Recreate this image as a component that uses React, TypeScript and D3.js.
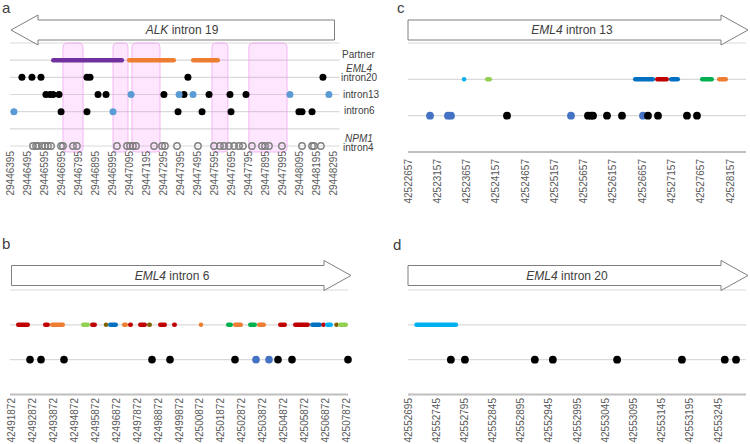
import React from "react";
import * as d3 from "d3";

// ---------- colours for partner categories ----------
const PARTNER_COLORS: Record<string, string> = {
  red: "#c00000",
  orange: "#ed7d31",
  lime: "#92d050",
  green: "#00b050",
  blue: "#0070c0",
  cyan: "#00b0f0",
  olive: "#7f6000",
  purple: "#7030a0",
};

// ---------- panel a : ALK intron 19 ----------
const ticksA = [29446395, 29446495, 29446595, 29446695, 29446795, 29446895, 29446995, 29447095, 29447195, 29447295,
  29447395, 29447495, 29447595, 29447695, 29447795, 29447895, 29447995, 29448095, 29448195, 29448295];
const shadedA = [
  [29446706, 29446824],
  [29447000, 29447088],
  [29447111, 29447276],
  [29447581, 29447675],
  [29447798, 29448022],
];
const partnerA = [
  { start: 29446636, end: 29447065, c: "purple" },
  { start: 29447082, end: 29447370, c: "orange" },
  { start: 29447458, end: 29447628, c: "orange" },
];
const eml4i20BlackA = [29446465, 29446524, 29446577, 29446847, 29446865, 29447440, 29448233];
const eml4i13BlackA = [29446606, 29446630, 29446648, 29446683, 29446912, 29446959, 29447299, 29447417, 29447564, 29447687, 29447781];
const eml4i13BlueA = [29447106, 29447388, 29447470, 29448039, 29448268];
const eml4i6BlackA = [29446695, 29446847, 29447382, 29447523, 29447693, 29448092, 29448110, 29448169];
const eml4i6BlueA = [29446418, 29447000];
const npm1i4A = [29446530, 29446548, 29446559, 29446583, 29446601, 29446618, 29446636, 29446695, 29446706, 29446765,
  29446788, 29447023, 29447082, 29447100, 29447117, 29447135, 29447241, 29447288, 29447305, 29447376, 29447499,
  29447593, 29447628, 29447652, 29447681, 29447711, 29447740, 29447763, 29447816, 29447875, 29447893, 29447916,
  29447992, 29448110, 29448169, 29448180, 29448221];

// ---------- panel b : EML4 intron 6 ----------
const ticksB = [42491872, 42492872, 42493872, 42494872, 42495872, 42496872, 42497872, 42498872, 42499872, 42500872,
  42501872, 42502872, 42503872, 42504872, 42505872, 42506872, 42507872];
const partnerB = [
  { start: 42492087, end: 42492756, c: "red" },
  { start: 42493376, end: 42493711, c: "red" },
  { start: 42493711, end: 42494427, c: "orange" },
  { start: 42495191, end: 42495621, c: "lime" },
  { start: 42495621, end: 42495955, c: "red" },
  { start: 42496290, end: 42496481, c: "olive" },
  { start: 42496481, end: 42496958, c: "blue" },
  { start: 42497149, end: 42497436, c: "orange" },
  { start: 42497436, end: 42497675, c: "red" },
  { start: 42497914, end: 42498343, c: "red" },
  { start: 42498343, end: 42498582, c: "olive" },
  { start: 42498869, end: 42499299, c: "red" },
  { start: 42499537, end: 42499776, c: "red" },
  { start: 42500827, end: 42501018, c: "orange" },
  { start: 42502117, end: 42502451, c: "green" },
  { start: 42502451, end: 42502928, c: "orange" },
  { start: 42503167, end: 42503597, c: "green" },
  { start: 42503597, end: 42504027, c: "orange" },
  { start: 42504600, end: 42505030, c: "red" },
  { start: 42505316, end: 42506128, c: "red" },
  { start: 42506128, end: 42506701, c: "blue" },
  { start: 42506701, end: 42506845, c: "red" },
  { start: 42506845, end: 42507227, c: "cyan" },
  { start: 42507322, end: 42507466, c: "olive" },
  { start: 42507466, end: 42507943, c: "lime" },
];
const blackB = [42492756, 42493281, 42494379, 42498582, 42499442, 42502546, 42504600, 42505269, 42507943];
const blueB = [42503549, 42504170];

// ---------- panel c : EML4 intron 13 ----------
const ticksC = [42522657, 42523157, 42523657, 42524157, 42524657, 42525157, 42525657, 42526157, 42526657, 42527157,
  42527657, 42528157];
const partnerC = [
  { start: 42523580, end: 42523650, c: "cyan" },
  { start: 42523972, end: 42524092, c: "lime" },
  { start: 42526500, end: 42526876, c: "blue" },
  { start: 42526876, end: 42527115, c: "red" },
  { start: 42527115, end: 42527303, c: "blue" },
  { start: 42527644, end: 42527883, c: "green" },
  { start: 42527935, end: 42528123, c: "orange" },
];
const blackC = [42524348, 42525731, 42525783, 42525817, 42526056, 42526312, 42526756, 42526927, 42527422, 42527593];
const blueC = [42523033, 42523340, 42523391, 42525441, 42526671];

// ---------- panel d : EML4 intron 20 ----------
const ticksD = [42552695, 42552745, 42552795, 42552845, 42552895, 42552945, 42552995, 42553045, 42553095, 42553145,
  42553195, 42553245];
const partnerD = [{ start: 42552706, end: 42552784, c: "cyan" }];
const blackD = [42552771, 42552796, 42552920, 42552952, 42553066, 42553181, 42553257, 42553277];

// ---------- styles ----------
const FONT = "'Liberation Sans', Arial, sans-serif";
const GRID = "#d9d9d9";
const AXIS = "#bfbfbf";
const TEXT = "#404040";
const TICK = "#595959";
const BLACK = "#000000";
const BLUE_A = "#5b9bd5";
const BLUE_B = "#4472c4";

function arrowPath(x0: number, x1: number, yc: number, bodyH: number, headH: number, headW: number, dir: string) {
  if (dir === "right") {
    const xb = x1 - headW;
    return `M${x0},${yc - bodyH}L${xb},${yc - bodyH}L${xb},${yc - headH}L${x1},${yc}L${xb},${yc + headH}L${xb},${yc + bodyH}L${x0},${yc + bodyH}Z`;
  }
  const xb = x0 + headW;
  return `M${x1},${yc - bodyH}L${xb},${yc - bodyH}L${xb},${yc - headH}L${x0},${yc}L${xb},${yc + headH}L${xb},${yc + bodyH}L${x1},${yc + bodyH}Z`;
}

type Seg = { start: number; end: number; c: string };

function Segments({ data, x, y, h }: { data: Seg[]; x: d3.ScaleLinear<number, number>; y: number; h: number }) {
  return (
    <g>
      {data.map((s, i) => {
        const x0 = x(s.start);
        const x1 = x(s.end);
        const w = Math.max(x1 - x0, h);
        const cx = (x0 + x1) / 2;
        return (
          <rect key={i} x={cx - w / 2} y={y - h / 2} width={w} height={h} rx={h / 2} fill={PARTNER_COLORS[s.c]} />
        );
      })}
    </g>
  );
}

function Dots({ data, x, y, r, fill, stroke }: { data: number[]; x: d3.ScaleLinear<number, number>; y: number; r: number; fill: string; stroke?: string }) {
  return (
    <g>
      {data.map((v, i) => (
        <circle key={i} cx={x(v)} cy={y} r={r} fill={fill} stroke={stroke || "none"} strokeWidth={stroke ? 1.4 : 0} />
      ))}
    </g>
  );
}

function TickLabels({ ticks, x, top }: { ticks: number[]; x: d3.ScaleLinear<number, number>; top: number }) {
  return (
    <g>
      {ticks.map((t) => (
        <text key={t} transform={`translate(${x(t)},${top}) rotate(-90)`} textAnchor="end" dy="0.35em"
          fontSize={10} fill={TICK} fontFamily={FONT}>{t}</text>
      ))}
    </g>
  );
}

function HLine({ x0, x1, y, color, w }: { x0: number; x1: number; y: number; color: string; w: number }) {
  return <line x1={x0} x2={x1} y1={y} y2={y} stroke={color} strokeWidth={w} />;
}

function Arrow({ x0, x1, yc, dir, gene, rest, cx }: { x0: number; x1: number; yc: number; dir: string; gene: string; rest: string; cx: number }) {
  return (
    <g>
      <path d={arrowPath(x0, x1, yc, 10, 15, 27, dir)} fill="#ffffff" stroke="#7f7f7f" strokeWidth={1} />
      <text x={cx} y={yc} dy="0.35em" textAnchor="middle" fontSize={12} fill={TEXT} fontFamily={FONT}>
        <tspan fontStyle="italic">{gene}</tspan>
        <tspan>{" " + rest}</tspan>
      </text>
    </g>
  );
}

export default function App() {
  // ---------- panel a ----------
  const xA = d3.scaleLinear().domain([ticksA[0], ticksA[ticksA.length - 1]]).range([10, 333.5]);
  const endA = 339.5;
  const rowA = d3.scaleLinear().domain([0, 6]).range([146, 43]);

  // ---------- panel c ----------
  const xC = d3.scaleLinear().domain([ticksC[0], ticksC[ticksC.length - 1]]).range([408, 730]);
  const endC = 746;
  const rowC = d3.scaleLinear().domain([0, 3]).range([43, 152]);

  // ---------- panel b ----------
  const xB = d3.scaleLinear().domain([ticksB[0], ticksB[ticksB.length - 1]]).range([11.5, 346.5]);
  const endB = 348;
  const rowB = d3.scaleLinear().domain([0, 3]).range([290, 394.5]);

  // ---------- panel d ----------
  const xD = d3.scaleLinear().domain([ticksD[0], ticksD[ticksD.length - 1]]).range([408, 718]);
  const endD = 746;
  const rowD = d3.scaleLinear().domain([0, 3]).range([290, 394.5]);

  const startA = xA.range()[0];

  return (
    <svg width={750} height={444} style={{ position: "absolute", left: 0, top: 0, display: "block", background: "#ffffff" }}
      fontFamily={FONT}>
      <rect x={0} y={0} width={750} height={444} fill="#ffffff" />

      {/* ===== panel a ===== */}
      <text x={2} y={13} fontSize={15} fill={TEXT}>a</text>
      {d3.range(0, 7).map((i) => (
        <HLine key={i} x0={startA} x1={endA} y={rowA(i)} color={GRID} w={1.2} />
      ))}
      {shadedA.map(([s, e], i) => (
        <rect key={i} x={xA(s)} y={rowA(6)} width={xA(e) - xA(s)} height={rowA(0) - rowA(6) + 6} rx={4}
          fill="#ff66ff" fillOpacity={0.16} stroke="#f0a8f0" strokeOpacity={0.8} strokeWidth={1} />
      ))}
      <Arrow x0={startA + 1} x1={endA - 5} yc={30} dir="left" gene="ALK" rest="intron 19" cx={182} />
      <Segments data={partnerA} x={xA} y={rowA(5)} h={4.5} />
      <Dots data={eml4i20BlackA} x={xA} y={rowA(4)} r={3.5} fill={BLACK} />
      <Dots data={eml4i13BlackA} x={xA} y={rowA(3)} r={3.5} fill={BLACK} />
      <Dots data={eml4i13BlueA} x={xA} y={rowA(3)} r={3.5} fill={BLUE_A} />
      <Dots data={eml4i6BlackA} x={xA} y={rowA(2)} r={3.5} fill={BLACK} />
      <Dots data={eml4i6BlueA} x={xA} y={rowA(2)} r={3.5} fill={BLUE_A} />
      <Dots data={npm1i4A} x={xA} y={rowA(0)} r={3.2} fill="none" stroke="#7f7f7f" />
      <TickLabels ticks={ticksA} x={xA} top={151} />
      <g fontSize={10} fill={TEXT}>
        <text x={342} y={54} dy="0.35em">Partner</text>
        <text x={346} y={68} dy="0.35em" fontStyle="italic">EML4</text>
        <text x={341} y={77.5} dy="0.35em">intron20</text>
        <text x={343} y={94} dy="0.35em">intron13</text>
        <text x={344} y={110.5} dy="0.35em">intron6</text>
        <text x={345} y={138} dy="0.35em" fontStyle="italic">NPM1</text>
        <text x={343} y={147.5} dy="0.35em">intron4</text>
      </g>

      {/* ===== panel c ===== */}
      <text x={397} y={13} fontSize={15} fill={TEXT}>c</text>
      <HLine x0={xC.range()[0]} x1={endC} y={rowC(0)} color={GRID} w={1.2} />
      <HLine x0={xC.range()[0]} x1={endC} y={rowC(1)} color={GRID} w={1.2} />
      <HLine x0={xC.range()[0]} x1={endC} y={rowC(2)} color={GRID} w={1.2} />
      <HLine x0={xC.range()[0]} x1={endC} y={rowC(3)} color={AXIS} w={1.8} />
      <Arrow x0={xC.range()[0]} x1={endC + 2} yc={30} dir="right" gene="EML4" rest="intron 13" cx={572} />
      <Segments data={partnerC} x={xC} y={rowC(1)} h={4.5} />
      <Dots data={blueC} x={xC} y={rowC(2)} r={3.9} fill={BLUE_B} />
      <Dots data={blackC} x={xC} y={rowC(2)} r={3.9} fill={BLACK} />
      <TickLabels ticks={ticksC} x={xC} top={159} />

      {/* ===== panel b ===== */}
      <text x={2} y={249} fontSize={15} fill={TEXT}>b</text>
      <HLine x0={xB.range()[0] - 1.5} x1={endB} y={rowB(0)} color={GRID} w={1.2} />
      <HLine x0={xB.range()[0] - 1.5} x1={endB} y={rowB(1)} color={GRID} w={1.2} />
      <HLine x0={xB.range()[0] - 1.5} x1={endB} y={rowB(2)} color={GRID} w={1.2} />
      <HLine x0={xB.range()[0] - 1.5} x1={endB} y={rowB(3)} color={AXIS} w={1.8} />
      <Arrow x0={xB.range()[0]} x1={endB + 3} yc={275.5} dir="right" gene="EML4" rest="intron 6" cx={172} />
      <Segments data={partnerB} x={xB} y={rowB(1)} h={4.5} />
      <Dots data={blackB} x={xB} y={rowB(2)} r={3.8} fill={BLACK} />
      <Dots data={blueB} x={xB} y={rowB(2)} r={3.8} fill={BLUE_B} />
      <TickLabels ticks={ticksB} x={xB} top={398} />

      {/* ===== panel d ===== */}
      <text x={393} y={250} fontSize={15} fill={TEXT}>d</text>
      <HLine x0={xD.range()[0]} x1={endD} y={rowD(0)} color={GRID} w={1.2} />
      <HLine x0={xD.range()[0]} x1={endD} y={rowD(1)} color={GRID} w={1.2} />
      <HLine x0={xD.range()[0]} x1={endD} y={rowD(2)} color={GRID} w={1.2} />
      <HLine x0={xD.range()[0]} x1={endD} y={rowD(3)} color={AXIS} w={1.8} />
      <Arrow x0={xD.range()[0]} x1={endD + 2} yc={275.5} dir="right" gene="EML4" rest="intron 20" cx={567} />
      <Segments data={partnerD} x={xD} y={rowD(1)} h={4.5} />
      <Dots data={blackD} x={xD} y={rowD(2)} r={3.9} fill={BLACK} />
      <TickLabels ticks={ticksD} x={xD} top={398} />
    </svg>
  );
}
